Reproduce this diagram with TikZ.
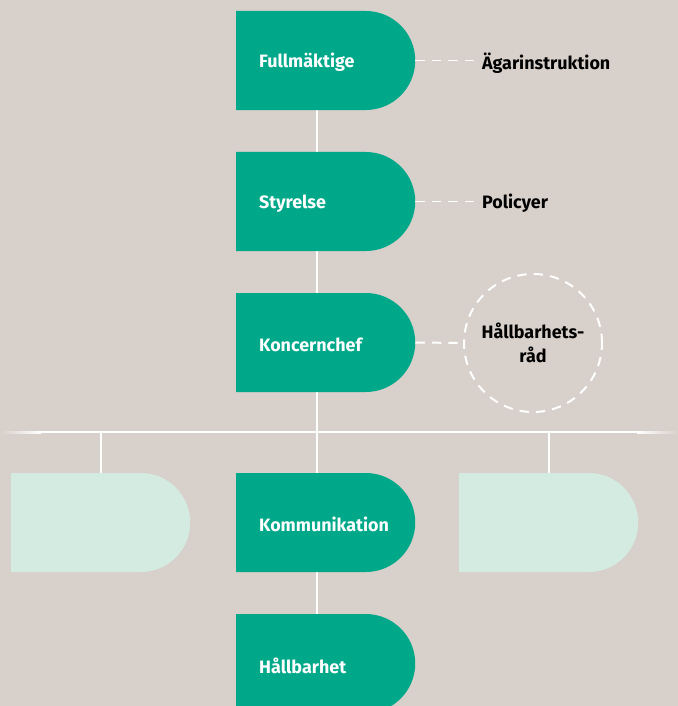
\documentclass[tikz,border=0pt]{standalone}
\usepackage{fontspec}
\setmainfont{Fira Sans}
\usepackage{xcolor}
\usetikzlibrary{shapes.misc}
\usetikzlibrary{shapes.geometric}
\usetikzlibrary{backgrounds}
\usetikzlibrary{calc}

\definecolor{bg}{HTML}{D8D0CA}
\definecolor{grn}{HTML}{00A88A}
\definecolor{pale}{HTML}{D4EBE1}

\tikzset{
  box/.style={rounded rectangle, rounded rectangle left arc=none,
    minimum width=5.37cm, minimum height=2.97cm, inner sep=0pt,
    anchor=west, fill=grn},
  palebox/.style={box, fill=pale},
  boxtext/.style={anchor=west, inner sep=0pt, text=white,
    font=\bfseries\fontsize{15.3}{18}\selectfont},
  note/.style={anchor=west, font=\bfseries\fontsize{15.3}{18}\selectfont},
  trunk/.style={draw=white, line width=1.7pt},
  dashline/.style={draw=white, line width=1.7pt, dash pattern=on 8pt off 6pt},
}

\begin{document}
\begin{tikzpicture}[x=0.03cm, y=-0.03cm]
  \useasboundingbox (0,0) rectangle (678,706);
  \path (236,60.5)
    node (full) [box] {} ++(0,141)
    node (sty) [box] {} ++(0,141)
    node (kon) [box] {} ++(0,180)
    node (komm) [box] {} ++(0,141)
    node (hall) [box] {}
    ;
  \path (11,522.5) node (lft) [palebox] {};
  \path (459,522.5) node (rgt) [palebox] {};
  \coordinate (stem) at (317,0);
  \coordinate (barl) at (0,432);
  \coordinate (barr) at (678,432);

  \begin{scope}[on background layer]
    \fill[bg] (0,0) rectangle (678,706);
    \draw[trunk] (stem |- full.south) -- (stem |- hall.north);
    \draw[trunk] ($(barl)+(40,0)$) -- ($(barr)+(-40,0)$);
    \shade[left color=bg, right color=white] (0,431) rectangle (41,433);
    \shade[left color=white, right color=bg] (637,431) rectangle (678,433);
    \draw[trunk] (lft.north) -- (lft.north |- barl);
    \draw[trunk] (rgt.north) -- (rgt.north |- barl);
  \end{scope}

  \path (full.west) +(23,2) node (tfull) [boxtext] {Fullmäktige};
  \path (sty.west) +(23,2) node (tsty) [boxtext] {Styrelse};
  \path (kon.west) +(23,2) node (tkon) [boxtext] {Koncernchef};
  \path (komm.west) +(23,2) node (tkomm) [boxtext] {Kommunikation};
  \path (hall.west) +(23,2) node (thall) [boxtext] {Hållbarhet};

  \path (478,63) node (agar) [note] {Ägarinstruktion};
  \path (478,203) node (pol) [note] {Policyer};
  \path (533,343) node (rad) [circle, minimum size=4.14cm, dashline,
    align=center, font=\bfseries\fontsize{15.3}{20.5}\selectfont] {Hållbarhets-\\råd};

  \draw[dashline] (full.east) -- (full.east -| agar.west);
  \draw[dashline] (sty.east) -- (sty.east -| pol.west);
  \draw[dashline] (kon.east) -- (rad.west);
\end{tikzpicture}
\end{document}
